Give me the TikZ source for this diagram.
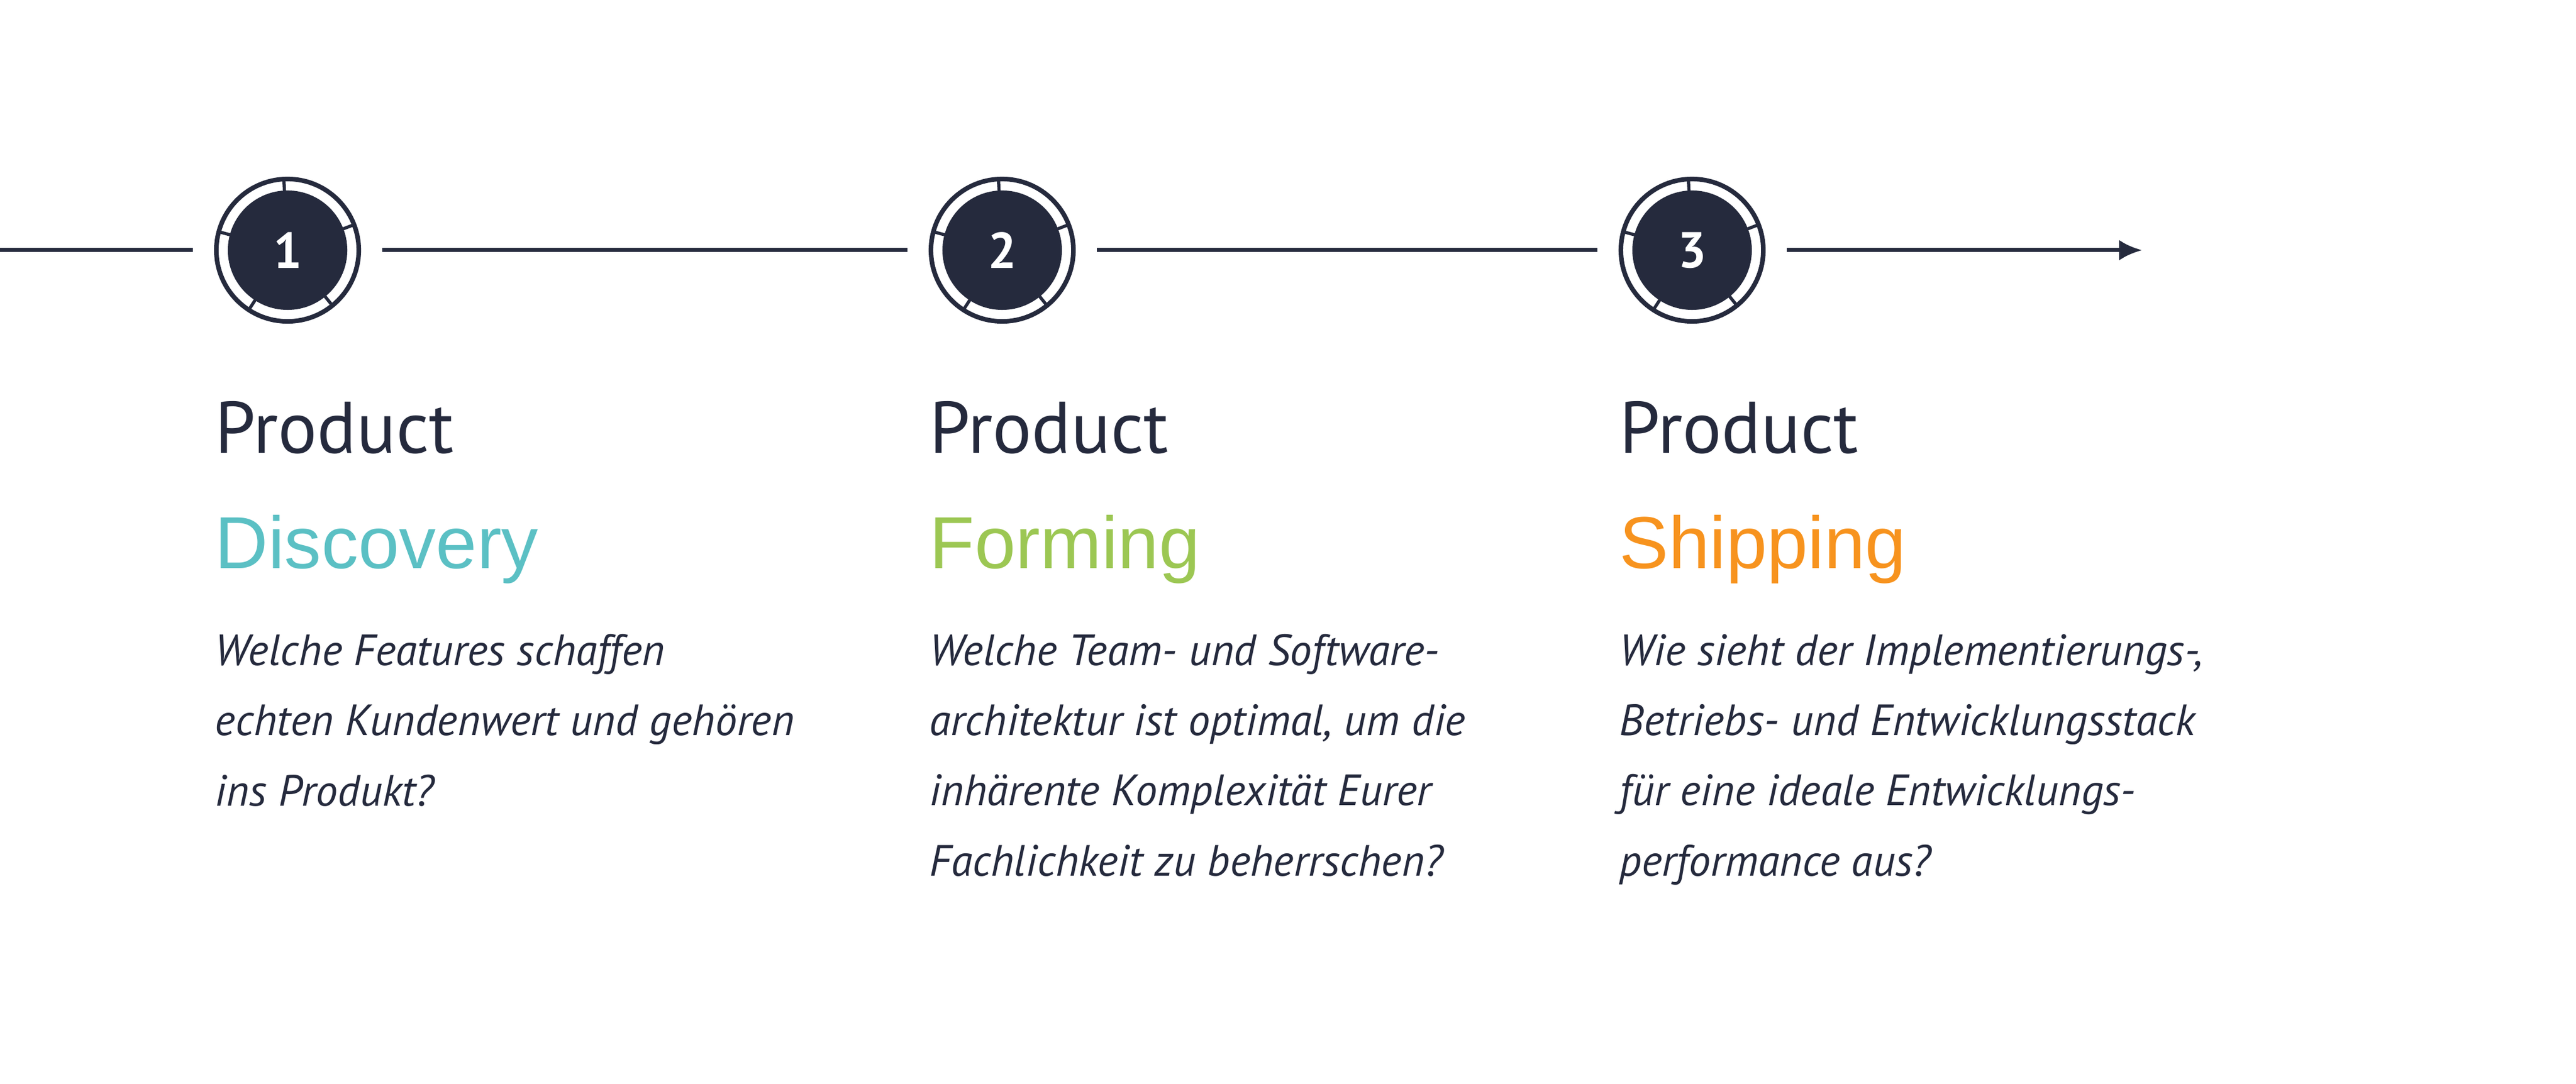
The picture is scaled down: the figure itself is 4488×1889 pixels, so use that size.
\documentclass[tikz,border=0pt]{standalone}
\usepackage{fontspec}
\setmainfont{PT Sans}
\newfontfamily\arialfont{Liberation Sans}
\usetikzlibrary{arrows.meta}

\definecolor{navy}{HTML}{252A3D}
\definecolor{discteal}{HTML}{5BC0C4}
\definecolor{formgreen}{HTML}{9CC753}
\definecolor{shiporange}{HTML}{F7931E}

\tikzset{
	stepdot/.style={circle, fill=navy, minimum size=2.08cm, inner sep=0pt, outer sep=0.61cm,
		text=white, font=\bfseries\fontsize{25}{25}\selectfont},
	timeline/.style={navy, line width=0.07cm},
	prodlabel/.style={anchor=base west, inner sep=0pt, text=navy, font=\fontsize{36.2}{36}\selectfont},
	phaselabel/.style={anchor=base west, inner sep=0pt, font=\arialfont\fontsize{36.5}{36}\selectfont},
	% anchored at the baseline of the last line
	question/.style={anchor=base west, inner sep=0pt, align=left, text=navy,
		font=\itshape\fontsize{21.7}{34.7}\selectfont}
}

\begin{document}
\begin{tikzpicture}[x=0.01cm, y=-0.01cm]
	\useasboundingbox (0,0) rectangle (4488,1889);
	
	% steps on the timeline
	\node[stepdot] (s1) at (501,436) {1};
	\node[stepdot] (s2) at (1746,436) {2};
	\node[stepdot] (s3) at (2948,436) {3};
	
	\foreach \s in {s1, s2, s3}
	{
		\draw[navy, line width=0.08cm] (\s.center) circle (1.24cm);
		\foreach \a in {93, 21, -51, -123, 165}
		\draw[navy, line width=0.055cm] ([shift={(\a:1.0cm)}]\s.center) -- ([shift={(\a:1.26cm)}]\s.center);
	}
	
	\coordinate (start) at (0,436);
	\coordinate (end) at (3732,436);
	\draw[timeline] (start) -- (s1);
	\draw[timeline] (s1) -- (s2);
	\draw[timeline] (s2) -- (s3);
	\draw[timeline, -{Latex[length=0.4cm, width=0.36cm]}] (s3) -- (end);
	
	% texts below the steps
	\foreach \s/\x/\word/\col in {s1/374/Discovery/discteal, s2/1619/Forming/formgreen, s3/2821/Shipping/shiporange}
	{
		\node[prodlabel] (\s-prod) at (\x,790) {Product};
		\node[phaselabel, text=\col] (\s-word) at (\x,990) {\word};
	}
	
	\node[question] (s1-text) at (374,1404) {Welche Features schaffen\\echten Kundenwert und gehören\\ins Produkt?};
	\node[question] (s2-text) at (1619,1526) {Welche Team- und Software-\\architektur ist optimal, um die\\inhärente Komplexität Eurer\\Fachlichkeit zu beherrschen?};
	\node[question] (s3-text) at (2821,1526) {Wie sieht der Implementierungs-,\\Betriebs- und Entwicklungsstack\\für eine ideale Entwicklungs-\\performance aus?};
\end{tikzpicture}
\end{document}
